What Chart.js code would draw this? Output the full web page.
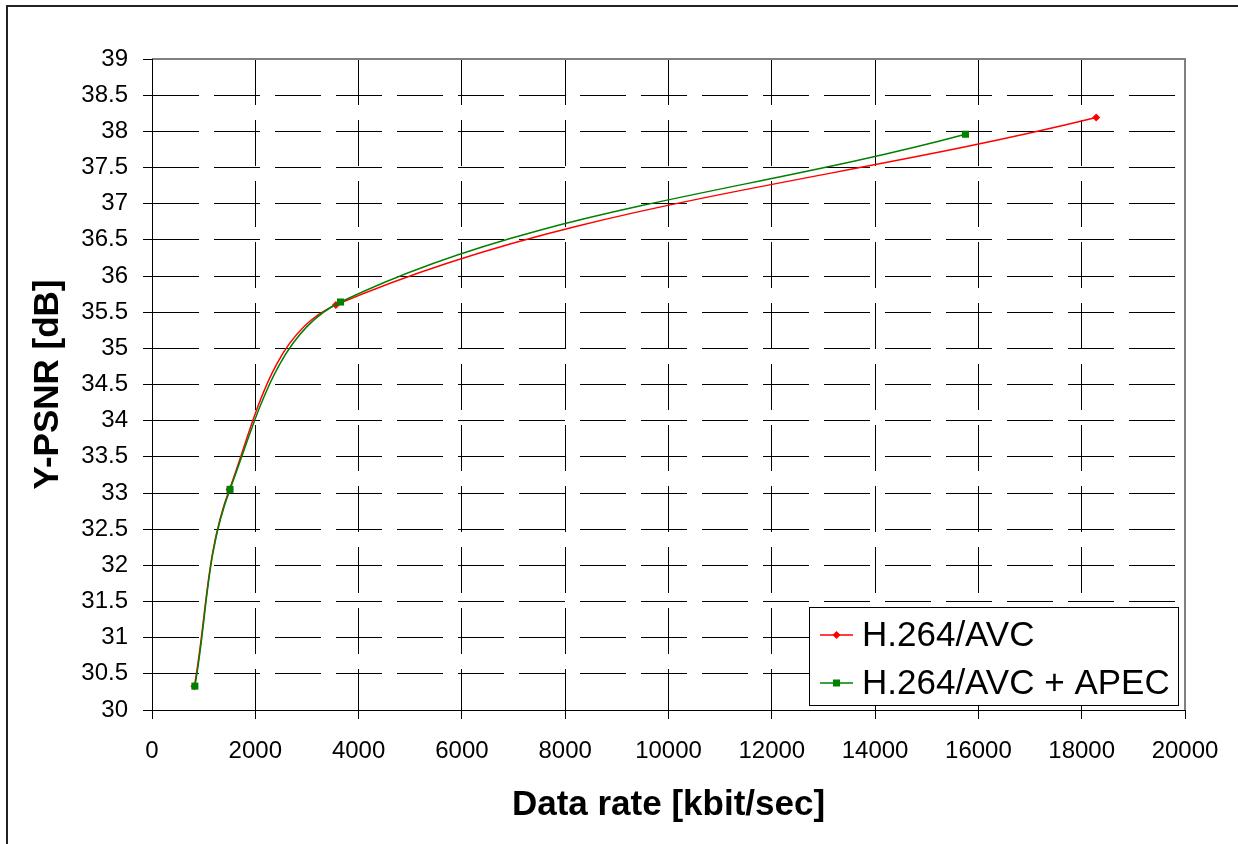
<!DOCTYPE html>
<html>
<head>
<meta charset="utf-8">
<script src="https://cdn.jsdelivr.net/npm/chart.js@4"></script>
<style>
  html, body { margin: 0; padding: 0; background: #fff; }
  #wrap { width: 1238px; height: 844px; position: relative; }
</style>
</head>
<body>
<div id="wrap"><canvas id="c" width="1238" height="844"></canvas></div>
<script>
// ---- data ----
const seriesNames = ['H.264/AVC', 'H.264/AVC + APEC'];
const rateAVC  = [820, 1500, 3560, 18280];
const psnrAVC  = [30.33, 33.05, 35.60, 38.19];
const rateAPEC = [830, 1510, 3650, 15750];
const psnrAPEC = [30.33, 33.05, 35.64, 37.96];
const xTicks = [0, 2000, 4000, 6000, 8000, 10000, 12000, 14000, 16000, 18000, 20000];
const yTicks = [30, 30.5, 31, 31.5, 32, 32.5, 33, 33.5, 34, 34.5, 35, 35.5, 36, 36.5, 37, 37.5, 38, 38.5, 39];
const xTitle = 'Data rate [kbit/sec]';
const yTitle = 'Y-PSNR [dB]';

const FONT = '"Liberation Sans", Arial, sans-serif';
const toPts = (xs, ys) => xs.map((x, i) => ({x: x, y: ys[i]}));

const frame = {
  id: 'frame',
  beforeDraw(chart) {
    const ctx = chart.ctx;
    ctx.save();
    ctx.fillStyle = '#fff';
    ctx.fillRect(0, 0, chart.width, chart.height);
    ctx.strokeStyle = '#222';
    ctx.lineWidth = 2;
    ctx.beginPath();
    ctx.moveTo(7, 844);
    ctx.lineTo(7, 6);
    ctx.lineTo(1238, 6);
    ctx.stroke();
    ctx.restore();
  },
  beforeDatasetsDraw(chart) {
    const a = chart.chartArea, ctx = chart.ctx;
    ctx.save();
    ctx.strokeStyle = '#808080';
    ctx.lineWidth = 2;
    ctx.beginPath();
    ctx.moveTo(a.left, a.top);
    ctx.lineTo(a.right, a.top);
    ctx.lineTo(a.right, a.bottom);
    ctx.stroke();
    ctx.strokeStyle = '#000';
    ctx.lineWidth = 1;
    ctx.beginPath();
    ctx.moveTo(Math.round(a.left) + 0.5, a.top);
    ctx.lineTo(Math.round(a.left) + 0.5, a.bottom);
    ctx.moveTo(a.left, Math.round(a.bottom) + 0.5);
    ctx.lineTo(a.right, Math.round(a.bottom) + 0.5);
    ctx.stroke();
    ctx.restore();
  },
  afterDraw(chart) {
    const ctx = chart.ctx;
    ctx.save();
    // legend box
    const bx = 809, by = 607, bw = 369, bh = 98;
    ctx.fillStyle = '#fff';
    ctx.fillRect(bx, by, bw, bh);
    ctx.strokeStyle = '#000';
    ctx.lineWidth = 1;
    ctx.strokeRect(bx + 0.5, by + 0.5, bw, bh);
    const rows = [635, 683];
    const dsOrder = [0, 1];
    ctx.font = '35px ' + FONT;
    ctx.textBaseline = 'middle';
    ctx.textAlign = 'left';
    dsOrder.forEach((di, i) => {
      const ds = chart.data.datasets[di];
      const y = rows[i];
      ctx.strokeStyle = ds.borderColor;
      ctx.lineWidth = 1.5;
      ctx.beginPath();
      ctx.moveTo(820, y);
      ctx.lineTo(853, y);
      ctx.stroke();
      ctx.fillStyle = ds.backgroundColor;
      if (ds.pointStyle === 'rectRot') {
        ctx.beginPath();
        ctx.moveTo(836.5, y - 4); ctx.lineTo(840.5, y); ctx.lineTo(836.5, y + 4); ctx.lineTo(832.5, y);
        ctx.closePath(); ctx.fill();
      } else {
        ctx.fillRect(833, y - 3.5, 7, 7);
      }
      ctx.fillStyle = '#000';
      ctx.fillText(ds.label, 862, y + 1);
    });
    ctx.restore();
  }
};

const gridOpts = { color: '#000', lineWidth: 1, tickLength: 9, tickBorderDash: [], tickColor: '#000' };
const borderOpts = { display: true, color: '#000', width: 1, dash: [46, 15], dashOffset: 0 };

new Chart(document.getElementById('c'), {
  type: 'line',
  data: {
    datasets: [
      {
        label: seriesNames[0],
        data: toPts(rateAVC, psnrAVC),
        borderColor: '#ff0000', backgroundColor: '#ff0000',
        borderWidth: 1.5, pointStyle: 'rectRot', pointRadius: 4,
        pointBorderWidth: 0, tension: 0.35, order: 1
      },
      {
        label: seriesNames[1],
        data: toPts(rateAPEC, psnrAPEC),
        borderColor: '#008000', backgroundColor: '#008000',
        borderWidth: 1.5, pointStyle: 'rect', pointRadius: 5,
        pointBorderWidth: 0, tension: 0.35, order: 0
      }
    ]
  },
  options: {
    responsive: false,
    animation: false,
    devicePixelRatio: 1,
    layout: { padding: { top: 59, right: 53, left: 0, bottom: 0 } },
    plugins: { legend: { display: false }, tooltip: { enabled: false } },
    scales: {
      x: {
        type: 'linear', min: xTicks[0], max: xTicks[xTicks.length - 1],
        afterFit(s) { s.height = 134; },
        afterBuildTicks(s) { s.ticks = xTicks.map(v => ({value: v})); },
        ticks: { color: '#000', font: { family: FONT, size: 24 }, padding: 18, maxRotation: 0, autoSkip: false,
                 callback: v => String(v) },
        grid: gridOpts,
        border: borderOpts,
        title: { display: true, text: xTitle, color: '#000', font: { family: FONT, size: 35, weight: 'bold' }, padding: { top: 0, bottom: 18 } }
      },
      y: {
        type: 'linear', min: yTicks[0], max: yTicks[yTicks.length - 1],
        afterFit(s) { s.width = 152; },
        afterBuildTicks(s) { s.ticks = yTicks.map(v => ({value: v})); },
        ticks: { color: '#000', font: { family: FONT, size: 24 }, padding: 15, autoSkip: false,
                 callback: v => String(v) },
        grid: gridOpts,
        border: borderOpts,
        title: { display: true, text: yTitle, color: '#000', font: { family: FONT, size: 35, weight: 'bold' }, padding: { top: 27, bottom: 0 } }
      }
    }
  },
  plugins: [frame]
});
</script>
</body>
</html>
